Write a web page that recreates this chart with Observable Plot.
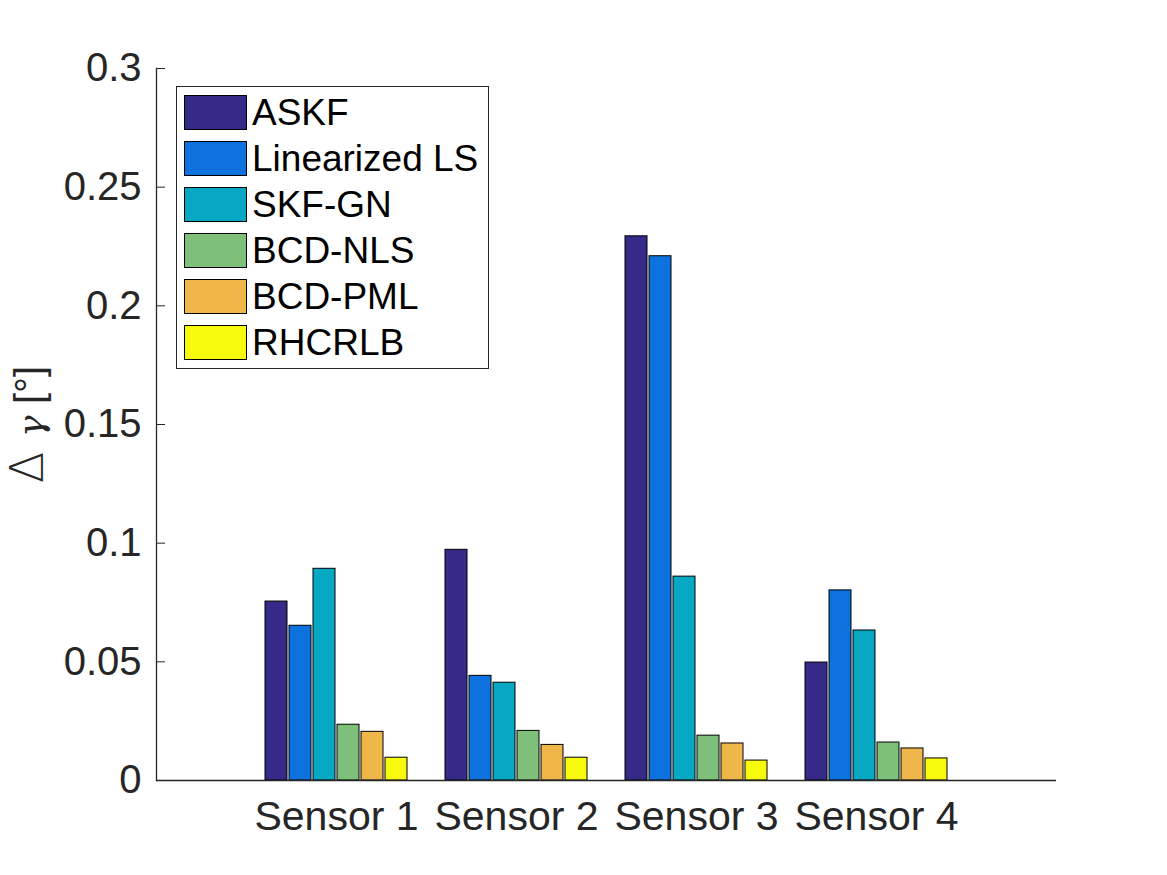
<!DOCTYPE html>
<html>
<head>
<meta charset="utf-8">
<script src="https://cdn.jsdelivr.net/npm/d3@7"></script>
<script src="https://cdn.jsdelivr.net/npm/@observablehq/plot@0.6"></script>
<style>
  body { margin: 0; background: #fff; }
  #wrap { position: relative; width: 1167px; height: 875px; font-family: "Liberation Sans", Arial, Helvetica, sans-serif; }
  #legend { position: absolute; left: 176px; top: 86px; width: 311px; height: 281px; border: 1px solid #262626; background: #fff; }
  .row { position: absolute; left: 7px; height: 35px; display: flex; align-items: center; }
  .sw { width: 61px; height: 33px; border: 1px solid #000; }
  .lb { margin-left: 5px; font-size: 37px; color: #000; line-height: 35px; }
</style>
</head>
<body>
<div id="wrap"></div>
<script>
const sensors = ["Sensor 1", "Sensor 2", "Sensor 3", "Sensor 4"];
const methods = ["ASKF", "Linearized LS", "SKF-GN", "BCD-NLS", "BCD-PML", "RHCRLB"];
const colors = ["#352a87", "#0d72dd", "#07a8c4", "#7ebf7a", "#efb64a", "#f8fa0d"];
// values per method, one entry per sensor
const askf    = [0.0754, 0.0972, 0.2293, 0.0497];
const linLS   = [0.0652, 0.0441, 0.2209, 0.0801];
const skfGN   = [0.0892, 0.0412, 0.0859, 0.0632];
const bcdNLS  = [0.0235, 0.0209, 0.0189, 0.0160];
const bcdPML  = [0.0205, 0.0150, 0.0156, 0.0135];
const rhcrlb  = [0.0096, 0.0096, 0.0084, 0.0093];
const yTicks = [0, 0.05, 0.1, 0.15, 0.2, 0.25, 0.3];
const yLabel = "Δ γ [°]";

const series = [askf, linLS, skfGN, bcdNLS, bcdPML, rhcrlb];
const data = [];
methods.forEach((m, i) => sensors.forEach((s, j) => data.push({sensor: s, method: m, value: series[i][j]})));

const W = 1167, H = 875;
const mL = 156, mR = 111, mT = 68, mB = 95;
const step = (W - mL - mR) / 5;          // band step
const groupW = step * 0.8;               // bandwidth
const pitch = groupW / methods.length;   // per-bar slot
const gap = 1;

const barMarks = methods.map((m, i) => Plot.barY(data.filter(d => d.method === m), {
  x: "sensor", y: "value", fill: colors[i], stroke: "#000", strokeWidth: 1,
  insetLeft: i * pitch + gap, insetRight: (methods.length - 1 - i) * pitch + gap
}));

const chart = Plot.plot({
  width: W, height: H,
  marginLeft: mL, marginRight: mR, marginTop: mT, marginBottom: mB,
  style: {fontFamily: "Liberation Sans, Arial, Helvetica, sans-serif", color: "#262626", background: "#fff"},
  x: {domain: sensors, paddingInner: 0.2, paddingOuter: 0.6, round: false},
  y: {domain: [0, 0.3]},
  marks: [
    ...barMarks,
    Plot.ruleY([0], {stroke: "#262626", strokeWidth: 1.3}),
    Plot.frame({anchor: "left", stroke: "#262626", strokeWidth: 1.3}),
    Plot.tickY(yTicks, {y: d => d, stroke: "#262626", strokeWidth: 1, insetRight: (W - mL - mR) - 9}),
    Plot.axisY(yTicks, {tickSize: 0, tickPadding: 15, tickFormat: d => String(d), fontSize: 40, label: null, fill: "#262626"}),
    Plot.axisX(sensors, {tickSize: 0, tickPadding: 20, fontSize: 41, label: null, fill: "#262626"}),
    Plot.text([yLabel], {text: d => d, frameAnchor: "left", textAnchor: "middle", rotate: -90, dx: -126, fontSize: 40, fill: "#262626"})
  ]
});

const wrap = document.getElementById("wrap");
wrap.appendChild(chart);

// style the y label: large thin Δ, serif italic γ
const labelText = Array.from(chart.querySelectorAll("text")).find(t => t.textContent === yLabel);
if (labelText) {
  const parts = yLabel.split(" ");
  labelText.textContent = "";
  const ns = "http://www.w3.org/2000/svg";
  const t1 = document.createElementNS(ns, "tspan");
  t1.textContent = parts[0] + " ";
  t1.setAttribute("font-size", "46");
  t1.setAttribute("font-family", "DejaVu Sans");
  t1.setAttribute("font-weight", "200");
  const t2 = document.createElementNS(ns, "tspan");
  t2.textContent = parts[1] + " ";
  t2.setAttribute("font-family", "DejaVu Serif");
  t2.setAttribute("font-style", "italic");
  t2.setAttribute("font-size", "36");
  const t3 = document.createElementNS(ns, "tspan");
  t3.textContent = parts[2];
  labelText.append(t1, t2, t3);
}

const legend = document.createElement("div");
legend.id = "legend";
methods.forEach((m, i) => {
  const row = document.createElement("div");
  row.className = "row";
  row.style.top = (8 + i * 46) + "px";
  const sw = document.createElement("div");
  sw.className = "sw";
  sw.style.background = colors[i];
  const lb = document.createElement("span");
  lb.className = "lb";
  lb.textContent = m;
  row.appendChild(sw);
  row.appendChild(lb);
  legend.appendChild(row);
});
wrap.appendChild(legend);
</script>
</body>
</html>
